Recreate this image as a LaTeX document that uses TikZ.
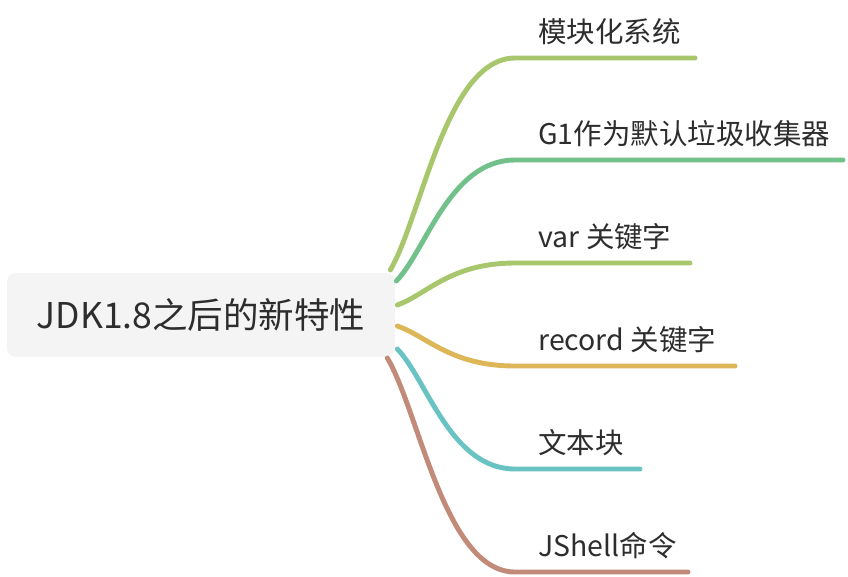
\documentclass[tikz,border=0pt]{standalone}
\usepackage{fontspec}
\setmainfont{Noto Sans CJK SC}
\usetikzlibrary{calc,positioning}

\definecolor{lime}{HTML}{A8C66C}
\definecolor{leafgreen}{HTML}{72C18B}
\definecolor{gold}{HTML}{DDB657}
\definecolor{teal}{HTML}{6AC3C3}
\definecolor{clay}{HTML}{C28A78}
\definecolor{ink}{HTML}{2D2D2D}
\definecolor{boxgray}{HTML}{F4F4F4}

\tikzset{
  rootbox/.style={fill=boxgray,rounded corners=5pt,minimum width=7.76cm,minimum height=1.68cm,
    text=ink,font=\fontsize{20.2pt}{23pt}\selectfont},
  branch/.style={line width=2.8pt,line cap=round},
  leaf/.style={anchor=base west,inner sep=0pt,text=ink,font=\fontsize{16.2pt}{19pt}\selectfont}
}

\begin{document}
\begin{tikzpicture}[x=0.02cm,y=-0.02cm]
  \useasboundingbox (0,0) rectangle (848,576);
  \node[rootbox] (root) at (201,315) {JDK1.8之后的新特性};
  % branches: start offset on the root, level, end of underline, colour, text
  \foreach \i/\dx/\dy/\yy/\xe/\c/\t in {
      1/-5/-45/58/695/lime/模块化系统,
      2/1/-34/160/843/leafgreen/G1作为默认垃圾收集器,
      3/2/-10/263/690/lime/var 关键字,
      4/2/11/366/735/gold/record 关键字,
      5/2/34/469/640/teal/文本块,
      6/-8/43/572/688/clay/JShell命令}{
    \coordinate (s\i) at ($(root.east)+(\dx,\dy)$);
    \coordinate (m\i) at (515,\yy);
    \coordinate (e\i) at (\xe,\yy);
    \coordinate (q\i) at ($(s\i)!0.25!(m\i)$);
    \coordinate (p\i) at ($(s\i)!0.45!(m\i)$);
    \draw[branch,\c] (s\i) .. controls (q\i) and (p\i |- m\i) .. (m\i) -- (e\i);
    \node[leaf] (t\i) at (538,\yy-16) {\t};
  }
\end{tikzpicture}
\end{document}
